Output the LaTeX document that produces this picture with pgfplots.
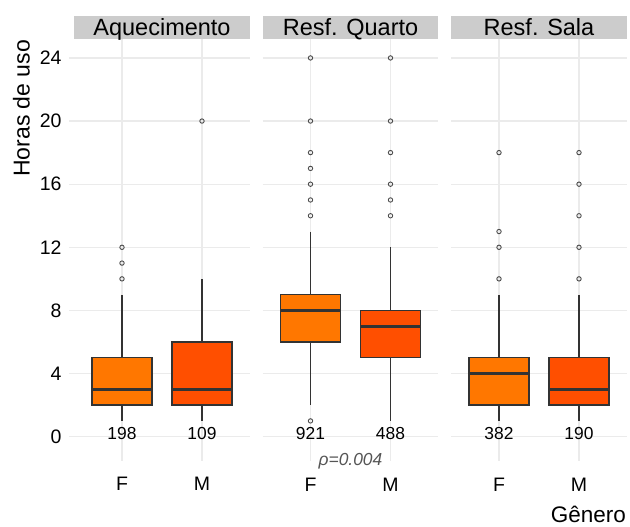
\documentclass[border=0pt]{standalone}
\usepackage{fontspec}
\setmainfont{Liberation Sans}
\usepackage{pgfplots}
\usepgfplotslibrary{statistics}
\pgfplotsset{compat=1.18}
\definecolor{colF}{HTML}{FF7700}
\definecolor{colM}{HTML}{FF4F00}
\definecolor{boxline}{HTML}{333333}
\definecolor{gridc}{HTML}{EBEBEB}
\definecolor{stripc}{HTML}{CCCCCC}
\definecolor{outc}{HTML}{555555}

\pgfplotsset{
  panel/.style={
    scale only axis, width=176pt, height=422pt,
    xmin=0.4, xmax=2.6, ymin=-1.54, ymax=25.2,
    axis line style={draw=none},
    xtick={1,2}, xticklabels={F,M}, ytick={0,4,...,24},
    grid=major, major grid style={draw=gridc, line width=1.3pt},
    xtick style={draw=none},
    clip=false,
    /pgf/number format/assume math mode=true,
    tick label style={font=\fontsize{19.5}{22}\selectfont, text=black},
    xticklabel style={anchor=base, yshift=-30.7pt},
    boxplot/draw direction=y,
  },
  bx/.style={
    fill=#1, draw=boxline, line width=1.4pt,
    mark=o, mark size=2.2pt, mark options={draw=outc!90!black, line width=0.9pt, fill=white},
    boxplot/every median/.style={line width=3.3pt, draw=boxline},
  },
  cnt/.style={draw=none, mark=none, nodes near coords, point meta=explicit symbolic,
    every node near coord/.append style={anchor=center, inner sep=0pt, font=\fontsize{17.4}{20}\selectfont, text=black}},
}

\newcommand{\strip}[1]{%
  \fill[stripc] (rel axis cs:0,1) rectangle ([yshift=23pt]rel axis cs:1,1);
  \node[anchor=base, font=\fontsize{23.5}{27}\selectfont, inner sep=0pt] at ([yshift=3pt]rel axis cs:0.5,1) {#1};
}

\begin{document}
\begin{tikzpicture}
\path[use as bounding box] (0,0) rectangle (630pt,527pt);

% Panel 1
\begin{axis}[panel, at={(74pt,66pt)}, anchor=south west,
  ytick pos=left, tick align=center, major tick length=10pt,
  ytick style={draw=gridc, line width=1.3pt},
  yticklabel style={anchor=east, xshift=-4pt},
  xticklabel style={yshift=6.5pt}]
\strip{Aquecimento}
\addplot[bx=colF, boxplot prepared={draw direction=y, lower whisker=1, lower quartile=2, median=3, upper quartile=5, upper whisker=9, draw position=1, box extend=0.75, whisker extend=0}]
  table[row sep=\\, y index=0] {10\\11\\12\\};
\addplot[bx=colM, boxplot prepared={draw direction=y, lower whisker=1, lower quartile=2, median=3, upper quartile=6, upper whisker=10, draw position=2, box extend=0.75, whisker extend=0}]
  table[row sep=\\, y index=0] {20\\};
\addplot[cnt] coordinates {(1,0.23)[198] (2,0.23)[109]};
\end{axis}

% Panel 2
\begin{axis}[panel, at={(262.5pt,66pt)}, anchor=south west,
  yticklabels={}, ytick style={draw=none}]
\strip{Resf. Quarto}
\addplot[bx=colF, boxplot prepared={draw direction=y, lower whisker=2, lower quartile=6, median=8, upper quartile=9, upper whisker=13, draw position=1, box extend=0.75, whisker extend=0}]
  table[row sep=\\, y index=0] {1\\14\\15\\16\\17\\18\\20\\24\\};
\addplot[bx=colM, boxplot prepared={draw direction=y, lower whisker=1, lower quartile=5, median=7, upper quartile=8, upper whisker=12, draw position=2, box extend=0.75, whisker extend=0}]
  table[row sep=\\, y index=0] {14\\15\\16\\18\\20\\24\\};
\addplot[cnt] coordinates {(1,0.23)[921] (2,0.23)[488]};
\node[font=\itshape\fontsize{17.4}{20}\selectfont, text=outc, inner sep=0pt, anchor=center] at (axis cs:1.5,-1.58) {ρ=0.004};
\end{axis}

% Panel 3
\begin{axis}[panel, at={(451pt,66pt)}, anchor=south west,
  yticklabels={}, ytick style={draw=none}]
\strip{Resf. Sala}
\addplot[bx=colF, boxplot prepared={draw direction=y, lower whisker=1, lower quartile=2, median=4, upper quartile=5, upper whisker=9, draw position=1, box extend=0.75, whisker extend=0}]
  table[row sep=\\, y index=0] {10\\12\\13\\18\\};
\addplot[bx=colM, boxplot prepared={draw direction=y, lower whisker=1, lower quartile=2, median=3, upper quartile=5, upper whisker=9, draw position=2, box extend=0.75, whisker extend=0}]
  table[row sep=\\, y index=0] {10\\12\\14\\16\\18\\};
\addplot[cnt] coordinates {(1,0.23)[382] (2,0.23)[190]};
\end{axis}

\node[rotate=90, font=\fontsize{23}{27}\selectfont, anchor=center, inner sep=0pt] at (21.5pt,418.6pt) {Horas de uso};
\node[font=\fontsize{22.5}{26}\selectfont, anchor=base east, inner sep=0pt] at (626pt,4pt) {Gênero};
\end{tikzpicture}
\end{document}
